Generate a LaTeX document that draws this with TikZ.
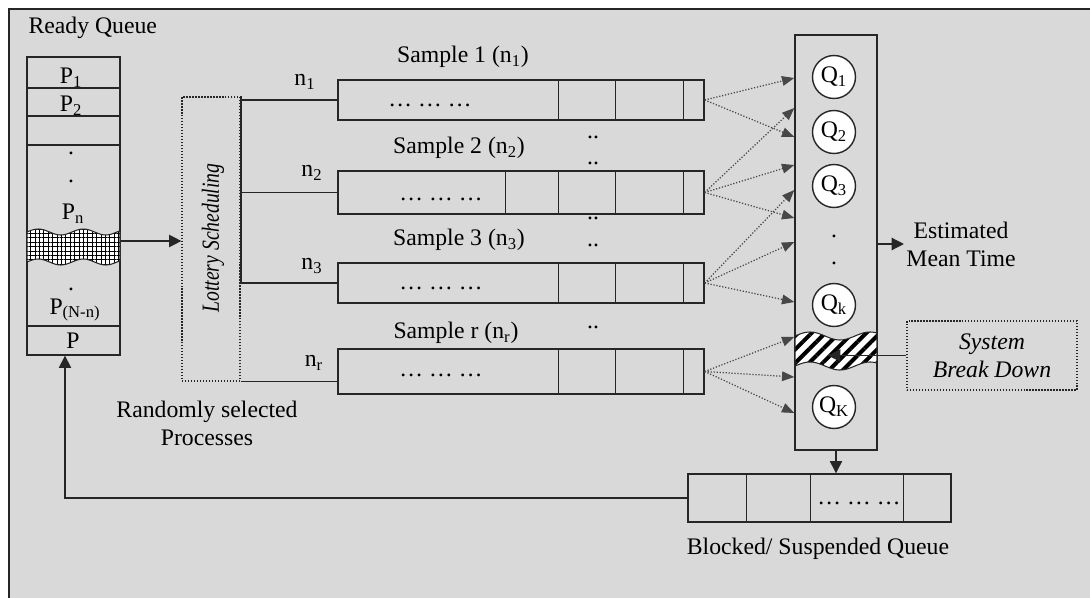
\documentclass[tikz,border=0pt]{standalone}
\usepackage{fontspec}
\setmainfont{Liberation Serif}
\usepackage{tikz}
\usetikzlibrary{positioning}
\usetikzlibrary{arrows.meta}
\usetikzlibrary{patterns.meta}
\definecolor{panel}{RGB}{217,217,217}
\definecolor{ink}{RGB}{38,38,38}

\begin{document}
\begin{tikzpicture}[x=0.02cm, y=-0.02cm, line width=0.8pt,
    font=\fontsize{13.5}{16}\selectfont,
    qbox/.style={draw=ink, line width=0.8pt, inner sep=0pt},
    note/.style={draw=ink, densely dotted, line width=0.7pt, inner sep=0pt},
    qball/.style={circle, draw=ink, fill=white, line width=0.8pt, minimum size=0.86cm, inner sep=0pt},
    probe/.style={draw=ink!85, densely dotted, line width=0.7pt, -{Triangle[length=7pt,width=5.5pt]}},
    feed/.style={draw=ink, line width=0.8pt, -{Triangle[length=7pt,width=7pt]}}]
    \useasboundingbox (0,0) rectangle (1090,598);
    % panel
    \fill[panel] (9,9) rectangle (1090,598);
    \draw[ink, line width=1pt] (9,598) -- (9,9) -- (1090,9);

    % ready queue
    \node[anchor=west] (rqtitle) at (22,28) {Ready Queue};
    \node[qbox, minimum width=1.86cm, minimum height=5.96cm] (rq) at (73.5,206) {};
    \foreach \y in {88,116,145,326}
        \draw[ink] (rq.west |- 0,\y) -- (rq.east |- 0,\y);
    \filldraw[draw=ink, line width=0.6pt, preaction={fill=white},
        pattern={Hatch[angle=0,distance=2.5pt,line width=0.5pt]}]
        plot[domain=27:120, samples=40, smooth] (\x, {232-3*sin((\x-27)*8)})
        -- plot[domain=120:27, samples=40, smooth] (\x, {262-3*sin((\x-27)*8)}) -- cycle;
    \node (p1) at (71,78) {P\textsubscript{1}};
    \node (p2) at (71,106) {P\textsubscript{2}};
    \node (rd1) at (71,153) {.};
    \node (rd2) at (71,181) {.};
    \node (pn) at (73,214) {P\textsubscript{n}};
    \node (rd3) at (71,289) {.};
    \node (pnn) at (75,310) {P\textsubscript{(N-n)}};
    \node (plast) at (73,341) {P};

    % lottery
    \node[note, minimum width=1.16cm, minimum height=5.68cm] (lot) at (211,239) {};
    \node[rotate=90, xscale=0.8, transform shape, font=\fontsize{14}{16}\selectfont\itshape] (lotlbl) at (213,238) {Lottery Scheduling};
    \coordinate (rqout) at (rq.east |- 0,241);
    \draw[feed] (rqout) -- (rqout -| lot.west);
    \node[align=center] (rand) at (207,423) {Randomly selected\\Processes};

    % samples
    \node[qbox, minimum width=7.32cm, minimum height=0.8cm] (s1) at (521,100) {};
    \node[qbox, minimum width=7.32cm, minimum height=0.86cm] (s2) at (521,192.5) {};
    \node[qbox, minimum width=7.32cm, minimum height=0.8cm] (s3) at (521,283) {};
    \node[qbox, minimum width=7.32cm, minimum height=0.9cm] (sr) at (521,371.5) {};
    \foreach \s in {s1,s2,s3,sr}
        \foreach \d in {4.42,5.56,6.92}
            \draw[ink] ([xshift=\d cm]\s.north west) -- ([xshift=\d cm]\s.south west);
    \draw[ink] ([xshift=3.36cm]s2.north west) -- ([xshift=3.36cm]s2.south west);
    \foreach \s/\x/\y in {1/430/105,2/441/199,3/441/288,r/441/375}
        \node (dots\s) at (\x,\y) {\ldots\ \ldots\ \ldots};
    \node (lab1) at (463,57) {Sample 1 (n\textsubscript{1})};
    \node (lab2) at (459,148) {Sample 2 (n\textsubscript{2})};
    \node (lab3) at (459,240) {Sample 3 (n\textsubscript{3})};
    \node (labr) at (456,333) {Sample r (n\textsubscript{r})};
    \foreach \y [count=\i] in {137,163,218,245,327}
        \node (gap\i) at (593,\y) {..};

    % branches
    \draw[ink, line width=1.2pt] (lot.north east) -- (lot.east |- s3.west);
    \foreach \s in {s1,s2,s3}
        \draw[ink] (lot.east |- \s.west) -- (\s.west);
    \draw[ink] (lot.south east) -- (lot.south east -| sr.west);
    \node (n1) at (305,82) {n\textsubscript{1}};
    \node (n2) at (312,173) {n\textsubscript{2}};
    \node (n3) at (312,266) {n\textsubscript{3}};
    \node (nr) at (314,363) {n\textsubscript{r}};

    % quanta column
    \node[qbox, minimum width=1.64cm, minimum height=8.3cm] (qc) at (836,242.5) {};
    \filldraw[draw=ink, line width=0.6pt, preaction={fill=white},
        pattern={Lines[angle=45,distance=5.5pt,line width=2.3pt]}]
        plot[domain=795:877, samples=40, smooth] (\x, {336-4*sin((\x-795)*6)})
        -- plot[domain=877:795, samples=40, smooth] (\x, {366-4*sin((\x-795)*6)}) -- cycle;
    \draw[qbox, fill=none] (qc.north west) rectangle (qc.south east);
    \node[qball] (q1) at (834,77) {Q\textsubscript{1}};
    \node[qball] (q2) at (834,132) {Q\textsubscript{2}};
    \node[qball] (q3) at (834,186) {Q\textsubscript{3}};
    \node (vd1) at (834,236) {.};
    \node (vd2) at (834,263) {.};
    \node[qball] (qk) at (834,305) {Q\textsubscript{k}};
    \node[qball] (qK) at (834,407) {Q\textsubscript{K}};
    \foreach \s/\t in {s1/78,s1/137,s2/108,s2/165,s2/218,s3/190,s3/242,s3/302,sr/337,sr/377,sr/413}
        \draw[probe] (\s.east) -- (qc.west |- 0,\t);

    % outputs
    \node[align=center, inner sep=1pt] (emt) at (961,244) {Estimated\\Mean Time};
    \draw[feed] (qc.east |- emt.west) -- (emt.west);
    \node[note, minimum width=3.4cm, minimum height=1.38cm, align=center, font=\fontsize{13.5}{16}\selectfont\itshape] (sbd) at (992,355.5) {System\\Break Down};
    \coordinate (brk) at (828,357);
    \draw[feed] (sbd.west) -- (sbd.west -| brk);

    % blocked queue
    \node[qbox, minimum width=5.26cm, minimum height=0.96cm] (bq) at (819.5,498) {};
    \foreach \d in {1.18,2.46,4.32}
        \draw[ink] ([xshift=\d cm]bq.north west) -- ([xshift=\d cm]bq.south west);
    \node (bqdots) at (859,503) {\ldots\ \ldots\ \ldots};
    \node (bqlbl) at (818,549) {Blocked/ Suspended Queue};
    \draw[feed] (qc.south) -- (qc.south |- bq.north);
    \draw[feed] (bq.west) -| ([xshift=-0.17cm]rq.south);
\end{tikzpicture}
\end{document}
